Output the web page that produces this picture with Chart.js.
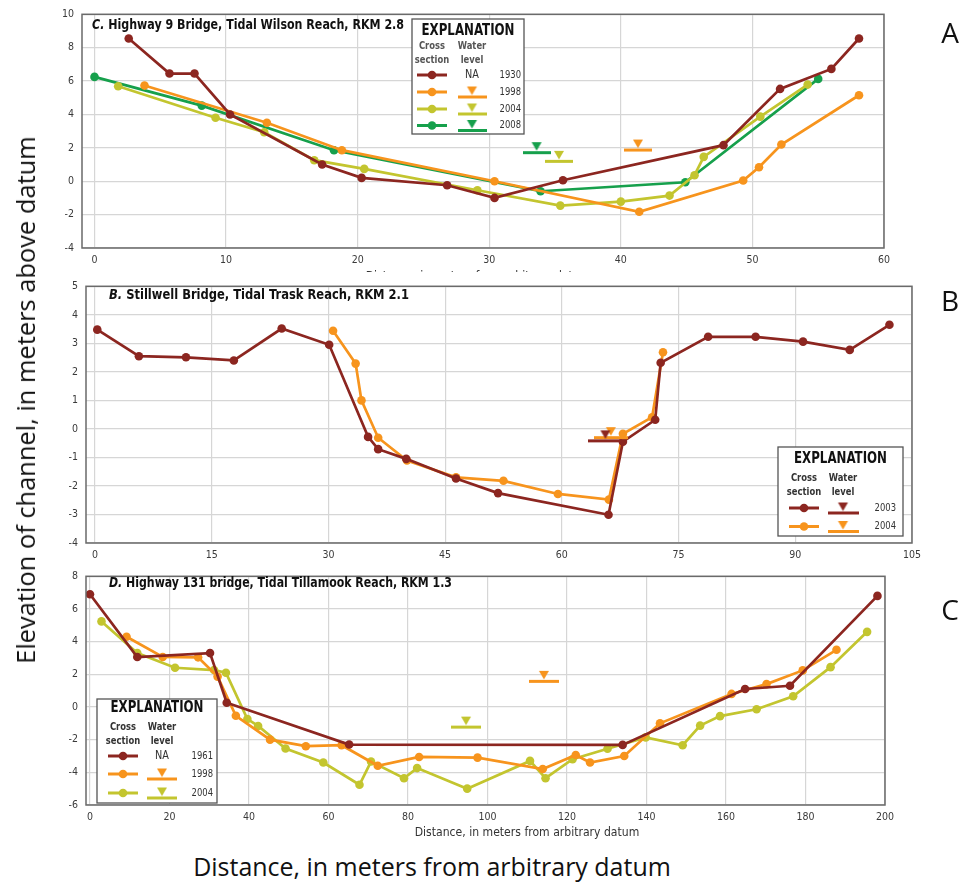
<!DOCTYPE html>
<html>
<head>
<meta charset="utf-8">
<script src="https://cdn.jsdelivr.net/npm/chart.js@4.4.0/dist/chart.umd.min.js"></script>
<style>
  body { margin: 0; background: #fff; width: 964px; height: 882px; position: relative; overflow: hidden; }
  canvas { position: absolute; left: 0; }
  .big { position: absolute; white-space: nowrap; font-family: "Open Sans", Lato, sans-serif; color: #111; }
  #ytitle { left: 25px; top: 400px; font-size: 21px; transform: translate(-50%, -50%) rotate(-90deg); }
  #xtitle { left: 432px; top: 866px; font-size: 21px; transform: translate(-50%, -50%); }
  .letter { font-size: 28px; transform: translate(-50%, -50%); }
</style>
</head>
<body>
<canvas id="chartA"></canvas>
<canvas id="chartB"></canvas>
<canvas id="chartC"></canvas>
<div class="big" id="ytitle">Elevation of channel, in meters above datum</div>
<div class="big" id="xtitle">Distance, in meters from arbitrary datum</div>
<div class="big letter" style="left:950px;top:32px">A</div>
<div class="big letter" style="left:950px;top:300px">B</div>
<div class="big letter" style="left:950px;top:609px">C</div>
<script>
// ---- panel A: Highway 9 Bridge (distance, elevation) ----
const xTicksA = [0, 10, 20, 30, 40, 50, 60];
const yTicksA = [-4, -2, 0, 2, 4, 6, 8, 10];
const a1930 = [[2.6, 8.55], [5.7, 6.45], [7.6, 6.45], [10.3, 4.0], [17.3, 1.0], [20.3, 0.2], [26.8, -0.24], [30.4, -1.0], [35.6, 0.06], [47.8, 2.16], [52.1, 5.53], [56.0, 6.73], [58.1, 8.55]];
const a1998 = [[3.8, 5.73], [13.1, 3.5], [18.8, 1.86], [30.4, 0.0], [41.4, -1.83], [49.3, 0.04], [50.5, 0.84], [52.2, 2.2], [58.1, 5.15]];
const a2004 = [[1.8, 5.69], [9.2, 3.8], [12.9, 2.93], [16.7, 1.26], [20.5, 0.74], [29.1, -0.54], [35.4, -1.46], [40.0, -1.22], [43.7, -0.86], [45.6, 0.36], [46.3, 1.46], [50.6, 3.87], [54.2, 5.79]];
const a2008 = [[0, 6.25], [8.15, 4.53], [18.2, 1.86], [33.9, -0.6], [44.9, -0.06], [55.0, 6.13]];
const waterA = { '1998': [41.3, 1.9], '2004': [35.3, 1.22], '2008': [33.6, 1.74] };

// ---- panel B: Stillwell Bridge ----
const xTicksB = [0, 15, 30, 45, 60, 75, 90, 105];
const yTicksB = [-4, -3, -2, -1, 0, 1, 2, 3, 4, 5];
const b2003 = [[0.3, 3.48], [5.65, 2.55], [11.7, 2.51], [17.85, 2.4], [24.0, 3.52], [30.1, 2.95], [35.1, -0.28], [36.4, -0.71], [40.0, -1.05], [46.4, -1.74], [51.8, -2.25], [66.0, -3.01], [67.85, -0.45], [72.0, 0.32], [72.7, 2.32], [78.8, 3.23], [84.9, 3.23], [91.0, 3.06], [97.0, 2.77], [102.1, 3.65]];
const b2004 = [[30.6, 3.44], [33.5, 2.29], [34.25, 1.0], [36.4, -0.31], [40.1, -1.11], [46.4, -1.7], [52.5, -1.82], [59.5, -2.28], [66.05, -2.48], [67.85, -0.17], [71.6, 0.41], [73.0, 2.69]];
const waterB = { '2003': [65.6, -0.4], '2004': [66.3, -0.29] };

// ---- panel C: Highway 131 bridge ----
const xTicksC = [0, 20, 40, 60, 80, 100, 120, 140, 160, 180, 200];
const yTicksC = [-6, -4, -2, 0, 2, 4, 6, 8];
const c1961 = [[0, 6.9], [11.9, 3.06], [30.2, 3.3], [34.4, 0.26], [65.2, -2.3], [134.0, -2.32], [164.8, 1.1], [176.1, 1.3], [198.1, 6.8]];
const c1998 = [[9.2, 4.3], [18.3, 3.06], [27.2, 3.04], [32.1, 1.86], [36.7, -0.54], [45.3, -2.0], [54.3, -2.4], [63.3, -2.34], [72.4, -3.6], [82.8, -3.06], [97.5, -3.1], [113.9, -3.8], [122.2, -2.94], [125.8, -3.4], [134.4, -3.0], [143.4, -1.0], [161.4, 0.8], [170.2, 1.4], [179.3, 2.24], [187.8, 3.5]];
const c2004 = [[2.9, 5.24], [11.9, 3.3], [21.4, 2.4], [31.2, 2.26], [34.2, 2.1], [39.6, -0.74], [42.3, -1.16], [49.2, -2.54], [58.7, -3.4], [67.8, -4.76], [70.7, -3.34], [79.0, -4.36], [82.3, -3.74], [94.9, -5.0], [110.7, -3.3], [114.6, -4.36], [121.4, -3.2], [130.2, -2.56], [139.8, -1.86], [149.1, -2.34], [153.5, -1.14], [158.5, -0.56], [167.7, -0.14], [176.9, 0.66], [186.3, 2.44], [195.5, 4.6]];
const waterC = { '1998': [114.2, 1.6], '2004': [94.6, -1.2] };

const RED = '#8c2620', ORANGE = '#f7941d', OLIVE = '#c3c52f', GREEN = '#16a04c';
const NARROW = '"DejaVu Sans Condensed", "Liberation Sans", sans-serif';

// fit the two page titles to the reference widths
function fitWidth(id, target) {
  const el = document.getElementById(id);
  const w = el.getBoundingClientRect();
  const len = Math.max(w.width, w.height);
  el.style.fontSize = (21 * target / len) + 'px';
}
fitWidth('xtitle', 478);
fitWidth('ytitle', 528);

function waterSymbol(color, w) {
  const c = document.createElement('canvas');
  c.width = w; c.height = 24;
  const g = c.getContext('2d');
  g.fillStyle = color;
  g.fillRect(0, 11, w, 3);
  g.beginPath();
  g.moveTo(w / 2 - 5, 2); g.lineTo(w / 2 + 5, 2); g.lineTo(w / 2, 10.5);
  g.closePath(); g.fill();
  return c;
}

function narrowText(ctx, text, x, y, sx) {
  ctx.save();
  ctx.translate(x, y);
  ctx.scale(sx, 1);
  ctx.fillText(text, 0, 0);
  ctx.restore();
}

function makeDecor(p) {
  return {
    id: 'decor',
    afterDraw(chart) {
      const ctx = chart.ctx, a = chart.chartArea;
      ctx.save();
      ctx.strokeStyle = '#6a6a6a'; ctx.lineWidth = 1.5;
      ctx.strokeRect(a.left, a.top, a.right - a.left, a.bottom - a.top);

      // panel title, squeezed to the reference width
      const T = p.title;
      ctx.fillStyle = '#111'; ctx.textBaseline = 'middle'; ctx.textAlign = 'left';
      ctx.font = `italic bold 14px ${NARROW}`;
      const w1 = ctx.measureText(T.tag).width;
      ctx.font = `bold 14px ${NARROW}`;
      const w2 = ctx.measureText(T.text).width;
      const sx = T.width / (w1 + w2);
      ctx.save();
      ctx.translate(T.x, T.y); ctx.scale(sx, 1);
      ctx.font = `italic bold 14px ${NARROW}`;
      ctx.fillText(T.tag, 0, 0);
      ctx.font = `bold 14px ${NARROW}`;
      ctx.fillText(T.text, w1, 0);
      ctx.restore();

      if (p.xTitle) {
        ctx.font = `13px ${NARROW}`; ctx.fillStyle = '#333'; ctx.textAlign = 'center';
        narrowText(ctx, 'Distance, in meters from arbitrary datum', p.xTitle.x, p.xTitle.y, 0.93);
      }

      // explanation box
      const L = p.legend;
      ctx.fillStyle = '#fff';
      ctx.fillRect(L.x, L.y, L.w, L.h);
      ctx.strokeStyle = '#555'; ctx.lineWidth = 1.3;
      ctx.strokeRect(L.x, L.y, L.w, L.h);
      ctx.fillStyle = '#111'; ctx.textAlign = 'center';
      ctx.font = `bold 15px ${NARROW}`;
      const ew = ctx.measureText('EXPLANATION').width;
      narrowText(ctx, 'EXPLANATION', L.x + L.w / 2, L.headY, 93 / ew);
      ctx.font = `bold 11px ${NARROW}`; ctx.fillStyle = L.subColor;
      narrowText(ctx, 'Cross', L.lineX, L.subY, 0.85);
      narrowText(ctx, 'section', L.lineX, L.subY + 14, 0.85);
      narrowText(ctx, 'Water', L.waterX, L.subY, 0.85);
      narrowText(ctx, 'level', L.waterX, L.subY + 14, 0.85);
      L.rows.forEach((yr, i) => {
        const y = L.rowY[i], col = p.colors[yr];
        ctx.strokeStyle = col; ctx.lineWidth = 3;
        ctx.beginPath(); ctx.moveTo(L.lineX - 15, y); ctx.lineTo(L.lineX + 15, y); ctx.stroke();
        ctx.fillStyle = col;
        ctx.beginPath(); ctx.arc(L.lineX, y, 4.3, 0, Math.PI * 2); ctx.fill();
        if (L.na && L.na.includes(yr)) {
          ctx.font = `12px ${NARROW}`; ctx.fillStyle = '#333'; ctx.textAlign = 'center';
          narrowText(ctx, 'NA', L.waterX, y, 0.9);
        } else {
          const s = waterSymbol(col, L.symW);
          ctx.drawImage(s, L.waterX - s.width / 2, y + 5 - 12.5);
        }
        ctx.font = `11px ${NARROW}`; ctx.fillStyle = '#333'; ctx.textAlign = 'right';
        narrowText(ctx, yr, L.yearX, y, 0.85);
      });
      ctx.restore();
    }
  };
}

function buildPanel(p) {
  const cv = document.getElementById(p.id);
  cv.width = 964; cv.height = p.height; cv.style.top = p.top + 'px';
  const datasets = [];
  Object.keys(p.water).forEach(yr => {
    datasets.push({
      label: 'water ' + yr, data: [{ x: p.water[yr][0], y: p.water[yr][1] }],
      showLine: false, pointStyle: waterSymbol(p.colors[yr], p.symW), pointRadius: 10, order: 0
    });
  });
  Object.keys(p.series).forEach(yr => {
    const col = p.colors[yr];
    datasets.push({
      label: yr, data: p.series[yr].map(d => ({ x: d[0], y: d[1] })),
      showLine: true, borderColor: col, backgroundColor: col, pointBackgroundColor: col,
      pointBorderWidth: 0, pointRadius: 4.3, borderWidth: 2.7, tension: 0, order: 1
    });
  });
  const tickFont = { family: NARROW, size: 10.5 };
  new Chart(cv, {
    type: 'scatter',
    data: { datasets },
    plugins: [makeDecor(p)],
    options: {
      responsive: false, animation: false, events: [],
      layout: { padding: { left: 0, right: 964 - p.area.right, top: p.area.top, bottom: 0 } },
      plugins: { legend: { display: false }, tooltip: { enabled: false } },
      scales: {
        x: {
          type: 'linear', min: p.xMin, max: p.xMax,
          afterBuildTicks: s => { s.ticks = p.xTicks.map(v => ({ value: v })); },
          afterFit: s => { s.height = p.height - p.area.bottom; },
          grid: { color: '#d6d6d6', lineWidth: 1.2, drawTicks: false },
          border: { display: false },
          ticks: { autoSkip: false, maxRotation: 0, padding: 6, color: '#3a3a3a', font: tickFont }
        },
        y: {
          type: 'linear', min: p.yMin, max: p.yMax,
          afterBuildTicks: s => { s.ticks = p.yTicks.map(v => ({ value: v })); },
          afterFit: s => { s.width = p.area.left; },
          grid: { color: '#d6d6d6', lineWidth: 1.2, drawTicks: false },
          border: { display: false },
          ticks: { autoSkip: false, padding: 8, color: '#3a3a3a', font: tickFont }
        }
      }
    }
  });
}

buildPanel({
  id: 'chartA', top: 0, height: 272, area: { left: 82, right: 884, top: 14, bottom: 248 },
  xMin: -0.95, xMax: 60, yMin: -4, yMax: 10, xTicks: xTicksA, yTicks: yTicksA,
  colors: { '1930': RED, '1998': ORANGE, '2004': OLIVE, '2008': GREEN },
  series: { '1930': a1930, '1998': a1998, '2004': a2004, '2008': a2008 }, water: waterA, symW: 28,
  title: { tag: 'C.', text: ' Highway 9 Bridge, Tidal Wilson Reach, RKM 2.8', x: 92, y: 25, width: 312 },
  xTitle: { x: 478, y: 277 },
  legend: { x: 412, y: 19, w: 112, h: 115, headY: 31, subY: 46, subColor: '#555', lineX: 432, waterX: 472, yearX: 521,
    symW: 29, rows: ['1930', '1998', '2004', '2008'], rowY: [75, 92, 109, 125.5], na: ['1930'] }
});

buildPanel({
  id: 'chartB', top: 272, height: 290, area: { left: 86, right: 912, top: 9, bottom: 271 },
  xMin: -1.15, xMax: 105, yMin: -4, yMax: 5, xTicks: xTicksB, yTicks: yTicksB,
  colors: { '2003': RED, '2004': ORANGE },
  series: { '2003': b2003, '2004': b2004 }, water: waterB, symW: 34,
  title: { tag: 'B.', text: ' Stillwell Bridge, Tidal Trask Reach, RKM 2.1', x: 109, y: 23, width: 300 },
  legend: { x: 778, y: 175, w: 125, h: 89, headY: 187, subY: 206, subColor: '#333', lineX: 804, waterX: 843, yearX: 896,
    symW: 31, rows: ['2003', '2004'], rowY: [236, 254.5] }
});

buildPanel({
  id: 'chartC', top: 562, height: 283, area: { left: 86, right: 885, top: 11, bottom: 243 },
  xMin: -1, xMax: 200, yMin: -6, yMax: 8, xTicks: xTicksC, yTicks: yTicksC,
  colors: { '1961': RED, '1998': ORANGE, '2004': OLIVE },
  series: { '1961': c1961, '1998': c1998, '2004': c2004 }, water: waterC, symW: 30,
  title: { tag: 'D.', text: ' Highway 131 bridge, Tidal Tillamook Reach, RKM 1.3', x: 109, y: 21, width: 343 },
  xTitle: { x: 527, y: 271 },
  legend: { x: 97, y: 137, w: 120, h: 104, headY: 146, subY: 165, subColor: '#333', lineX: 123, waterX: 162, yearX: 213,
    symW: 30, rows: ['1961', '1998', '2004'], rowY: [194, 212, 231], na: ['1961'] }
});
</script>
</body>
</html>
